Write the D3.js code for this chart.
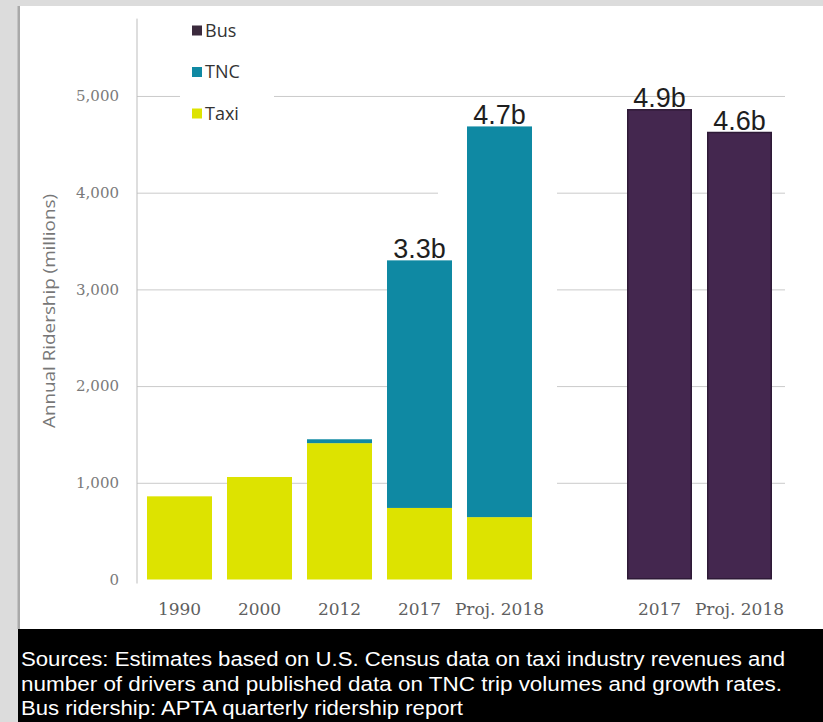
<!DOCTYPE html>
<html>
<head>
<meta charset="utf-8">
<script src="https://cdn.jsdelivr.net/npm/d3@7"></script>
<style>
  html, body { margin: 0; padding: 0; background: #dcdcdc; }
  svg { display: block; }
</style>
</head>
<body>
<svg id="chart" width="823" height="722"></svg>
<script>
// Annual ridership (millions)
const taxiYears  = ["1990", "2000", "2012", "2017", "Proj. 2018"];
const taxiValues = [860, 1060, 1410, 740, 645];
const tncValues  = [0, 0, 40, 2560, 4040];
const busYears   = ["2017", "Proj. 2018"];
const busValues  = [4865, 4630];
const yTicks     = [0, 1000, 2000, 3000, 4000, 5000];
const seriesNames  = ["Bus", "TNC", "Taxi"];
const seriesColors = ["#44274f", "#0f89a3", "#dde300"];
const sourceLines = [
  "Sources: Estimates based on U.S. Census data on taxi industry revenues and",
  "number of drivers and published data on TNC trip volumes and growth rates.",
  "Bus ridership: APTA quarterly ridership report"
];

const color = d3.scaleOrdinal().domain(seriesNames).range(seriesColors);

const svg = d3.select("#chart");

// page frame: grey margin, white panel, black source band
svg.append("rect").attr("x", 0).attr("y", 0).attr("width", 823).attr("height", 722).attr("fill", "#dcdcdc");
svg.append("rect").attr("x", 18).attr("y", 6).attr("width", 805).attr("height", 623).attr("fill", "#ffffff");
svg.append("rect").attr("x", 17.5).attr("y", 6).attr("width", 2.5).attr("height", 623).attr("fill", "#a9a9a9");
svg.append("rect").attr("x", 18).attr("y", 629).attr("width", 805).attr("height", 93).attr("fill", "#000000");

// slots: five taxi/TNC columns, an empty gap, two bus columns
const taxiRows = taxiYears.map((yr, i) => ({ id: "t" + i, year: yr, Taxi: taxiValues[i], TNC: tncValues[i] }));
const busRows  = busYears.map((yr, i) => ({ id: "b" + i, year: yr, Bus: busValues[i] }));
const slotIds = [...taxiRows.map(d => d.id), "gap", ...busRows.map(d => d.id)];
const slotLabel = new Map([...taxiRows, ...busRows].map(d => [d.id, d.year]));

const x = d3.scaleBand()
  .domain(slotIds)
  .range([137, 782])
  .paddingInner(0.1875)
  .paddingOuter(0.125);

const y = d3.scaleLinear()
  .domain([0, 5800])
  .range([579.5, 18.6]);

const plot = svg.append("g");

// horizontal gridlines
const grid = plot.append("g")
  .attr("transform", "translate(137,0)")
  .call(d3.axisLeft(y).tickValues(yTicks.filter(v => v > 0)).tickSize(-648).tickFormat(""));
grid.select(".domain").remove();
grid.selectAll(".tick line").attr("stroke", "#cacaca").attr("stroke-width", 1);

// white backings behind the legend and the projected TNC column
plot.append("rect").attr("x", 180).attr("y", 12).attr("width", 94).attr("height", 122).attr("fill", "#fff");
plot.append("rect").attr("x", 438).attr("y", 150).attr("width", 119).attr("height", 428).attr("fill", "#fff");

// vertical axis line
plot.append("line")
  .attr("x1", 137).attr("x2", 137)
  .attr("y1", y.range()[1]).attr("y2", y.range()[0] + 4)
  .attr("stroke", "#bdbdbd").attr("stroke-width", 1);

// y tick labels
const yAxis = plot.append("g")
  .attr("transform", "translate(137,0)")
  .call(d3.axisLeft(y).tickValues(yTicks).tickSize(0).tickPadding(18).tickFormat(d3.format(",")));
yAxis.select(".domain").remove();
yAxis.selectAll("text")
  .attr("font-family", "'DejaVu Serif', serif")
  .attr("font-size", 15)
  .attr("fill", "#7a7a7a");

// stacked taxi + TNC bars
const stack = d3.stack().keys(["Taxi", "TNC"]);
const layers = stack(taxiRows);
plot.append("g").selectAll("g")
  .data(layers)
  .join("g")
  .attr("fill", d => color(d.key))
  .selectAll("rect")
  .data(d => d.filter(s => s[1] > s[0]))
  .join("rect")
  .attr("x", d => x(d.data.id))
  .attr("width", x.bandwidth())
  .attr("y", d => y(d[1]))
  .attr("height", d => y(d[0]) - y(d[1]));

// bus bars
plot.append("g").selectAll("rect")
  .data(busRows)
  .join("rect")
  .attr("x", d => x(d.id) + 0.75)
  .attr("width", x.bandwidth() - 1.5)
  .attr("y", d => y(d.Bus) + 0.75)
  .attr("height", d => y(0) - y(d.Bus) - 1.5)
  .attr("fill", color("Bus"))
  .attr("stroke", "#2e1a37")
  .attr("stroke-width", 1.5);

// total labels in billions
const fmtB = v => d3.format(".1f")(v / 1000) + "b";
const totals = [
  ...taxiRows.filter(d => d.TNC > 1000).map(d => ({ id: d.id, v: d.Taxi + d.TNC })),
  ...busRows.map(d => ({ id: d.id, v: d.Bus }))
];
plot.append("g").selectAll("text")
  .data(totals)
  .join("text")
  .attr("x", d => x(d.id) + x.bandwidth() / 2)
  .attr("y", d => y(d.v) - 2)
  .attr("text-anchor", "middle")
  .attr("font-family", "'Liberation Sans', Arial, sans-serif")
  .attr("font-size", 27)
  .attr("fill", "#1e1e1e")
  .text(d => fmtB(d.v));

// category labels
const xAxis = plot.append("g")
  .attr("transform", `translate(0,${y(0)})`)
  .call(d3.axisBottom(x).tickSize(0).tickFormat(id => slotLabel.get(id) || ""));
xAxis.select(".domain").remove();
xAxis.selectAll("text")
  .attr("y", 35.5)
  .attr("dy", 0)
  .attr("font-family", "'DejaVu Serif', serif")
  .attr("font-size", 17)
  .attr("fill", "#606060");

// y axis title
svg.append("text")
  .attr("transform", "translate(55,311) rotate(-90)")
  .attr("text-anchor", "middle")
  .attr("font-family", "'Open Sans', sans-serif")
  .attr("font-size", 16)
  .attr("fill", "#777")
  .attr("textLength", 234)
  .attr("lengthAdjust", "spacingAndGlyphs")
  .text("Annual Ridership (millions)");

// legend
const legend = svg.append("g").selectAll("g")
  .data(seriesNames)
  .join("g")
  .attr("transform", (d, i) => `translate(192,${36.5 + i * 41.5})`);
legend.append("rect")
  .attr("x", 0).attr("y", -11).attr("width", 10).attr("height", 10)
  .attr("fill", d => d === "Bus" ? "#3b2a3d" : color(d));
legend.append("text")
  .attr("x", 13)
  .attr("y", 0)
  .attr("font-family", "'Open Sans', sans-serif")
  .attr("font-size", 18)
  .attr("fill", "#333")
  .text(d => d);

// source note
const noteWidths = [764, 761, 442];
svg.append("g").selectAll("text")
  .data(sourceLines)
  .join("text")
  .attr("x", 21)
  .attr("y", (d, i) => 666 + i * 24.5)
  .attr("font-family", "'Liberation Sans', Arial, sans-serif")
  .attr("font-size", 20)
  .attr("fill", "#ffffff")
  .attr("textLength", (d, i) => noteWidths[i])
  .attr("lengthAdjust", "spacingAndGlyphs")
  .text(d => d);
</script>
</body>
</html>
